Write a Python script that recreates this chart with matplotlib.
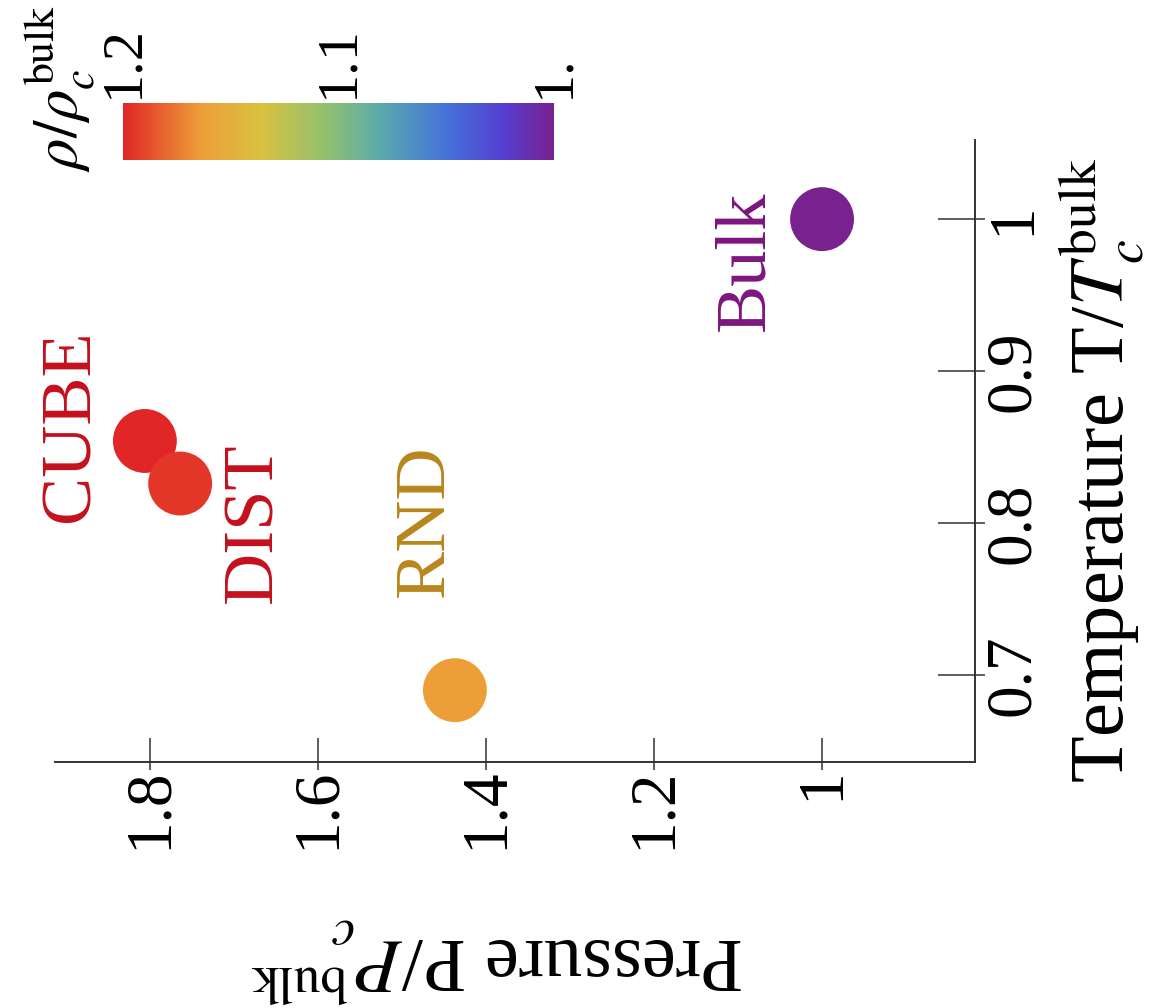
import numpy as np
import matplotlib
matplotlib.use("Agg")
import matplotlib.pyplot as plt
from matplotlib.colors import LinearSegmentedColormap, Normalize
from matplotlib.ticker import FixedLocator

plt.rcParams['font.family'] = 'serif'
plt.rcParams['font.serif'] = ['Liberation Serif', 'DejaVu Serif']
plt.rcParams['mathtext.fontset'] = 'stix'

# state points: reduced pressure, reduced temperature, reduced density
names = ['CUBE', 'DIST', 'RND', 'Bulk']
pressure = [1.806, 1.764, 1.437, 1.0]
temperature = [0.854, 0.826, 0.690, 1.0]
density = [1.2, 1.195, 1.164, 1.0]
text_colors = ['#c4101c', '#c4101c', '#b8861b', '#7d157f']
# label offsets in points from each marker
offsets = [(-53, 11), (53, -28), (-21, 122), (-55, -30)]

p_ticks = [1.8, 1.6, 1.4, 1.2, 1.0]
p_ticklabels = ['1.8', '1.6', '1.4', '1.2', '1']
t_ticks = [0.7, 0.8, 0.9, 1.0]
t_ticklabels = ['0.7', '0.8', '0.9', '1']
cb_ticks = [1.2, 1.1, 1.0]
cb_ticklabels = ['1.2', '1.1', '1.']

rainbow = LinearSegmentedColormap.from_list('rainbow_like', [
    (0.00, (0.47, 0.13, 0.56)),
    (0.12, (0.33, 0.25, 0.82)),
    (0.25, (0.27, 0.45, 0.85)),
    (0.40, (0.35, 0.66, 0.68)),
    (0.52, (0.55, 0.75, 0.45)),
    (0.68, (0.85, 0.76, 0.25)),
    (0.82, (0.93, 0.62, 0.22)),
    (1.00, (0.88, 0.15, 0.15)),
])
norm = Normalize(vmin=1.0, vmax=1.2)

fig = plt.figure(figsize=(11.5, 10.08), dpi=100)
ax = fig.add_axes([0.0478, 0.244, 0.80, 0.617])

ax.scatter(pressure, temperature, c=density, cmap=rainbow, norm=norm,
           s=46**2, zorder=3, linewidths=0)
for name, p, t, col, off in zip(names, pressure, temperature, text_colors, offsets):
    ax.annotate(name, (p, t), xytext=off, textcoords='offset points',
                rotation=90, ha='center', va='center', color=col, fontsize=52)

ax.set_xlim(1.913, 0.818)
ax.set_ylim(0.6427, 1.052)

ax.spines['top'].set_visible(False)
ax.spines['left'].set_visible(False)
for s in ['bottom', 'right']:
    ax.spines[s].set_linewidth(1.4)
    ax.spines[s].set_color('#333333')

ax.yaxis.tick_right()
ax.xaxis.remove_overlapping_locs = False
ax.yaxis.remove_overlapping_locs = False
ax.xaxis.set_major_locator(FixedLocator(p_ticks))
ax.xaxis.set_minor_locator(FixedLocator(p_ticks))
ax.yaxis.set_major_locator(FixedLocator(t_ticks))
ax.yaxis.set_minor_locator(FixedLocator(t_ticks))
ax.set_xticklabels(p_ticklabels, rotation=90, fontsize=47)
ax.set_yticklabels(t_ticklabels, rotation=90, va='center', fontsize=47)
ax.tick_params(axis='x', which='major', direction='in', length=17, width=1.1,
               color='#333333', pad=4)
ax.tick_params(axis='x', which='minor', direction='out', length=6, width=1.1,
               color='#333333')
ax.tick_params(axis='y', which='major', direction='in', length=27, width=1.1,
               color='#333333', pad=6)
ax.tick_params(axis='y', which='minor', direction='out', length=7, width=1.1,
               color='#333333')

fig.text(497 / 1150, 1 - 960 / 1008, r'Pressure P/$P_c^{\mathrm{bulk}}$',
         rotation=180, ha='center', va='center', fontsize=55)
fig.text(1102 / 1150, 1 - 470 / 1008, r'Temperature T/$T_c^{\mathrm{bulk}}$',
         rotation=90, ha='center', va='center', fontsize=55)

# density colour bar
cax = fig.add_axes([0.107, 0.841, 0.375, 0.0566])
sm = plt.cm.ScalarMappable(norm=norm, cmap=rainbow)
cb = fig.colorbar(sm, cax=cax, orientation='horizontal')
cb.outline.set_visible(False)
cax.invert_xaxis()
cax.xaxis.set_ticks_position('top')
cax.xaxis.set_major_locator(FixedLocator(cb_ticks))
cax.set_xticklabels(cb_ticklabels, rotation=90, fontsize=42)
cax.tick_params(axis='x', length=0, pad=4)
fig.text(60 / 1150, 1 - 88 / 1008, r'$\rho/\rho_c^{\mathrm{bulk}}$',
         rotation=90, ha='center', va='center', fontsize=45)

fig.savefig('out.png', dpi=100)
